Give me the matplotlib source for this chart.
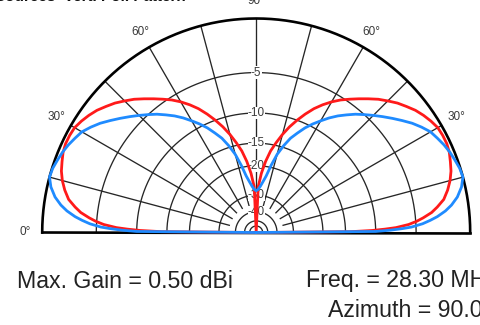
import numpy as np
import matplotlib.pyplot as plt

plt.rcParams['font.family'] = ['Liberation Sans', 'DejaVu Sans']

# elevation angles (deg) and relative gain (dB) for the two patterns
elev = [0, 0.5, 1, 1.5, 2, 3, 4, 5, 6.5, 8, 10, 12.5, 15, 17.5, 20, 22.5, 25, 27.5, 30,
        32.5, 35, 37.5, 40, 42.5, 45, 47.5, 50, 52.5, 55, 57.5, 60, 62.5, 65, 67.5, 70,
        72.5, 75, 77.5, 80, 82.5, 85, 87.5, 90]
red_db = [-100, -14.0, -10.5, -8.7, -7.3, -5.8, -4.9, -4.2, -3.3, -2.7, -2.0, -1.5, -1.1,
          -0.8, -0.6, -0.4, -0.3, -0.3, -0.35, -0.55, -0.8, -1.1, -1.5, -1.9, -2.4, -2.9,
          -3.5, -4.1, -4.7, -5.3, -6.0, -6.8, -7.7, -8.8, -10.0, -11.3, -12.8, -14.5,
          -16.3, -18.8, -22.0, -26.5, -100]
blue_db = [-100, -10.0, -8.0, -6.6, -5.5, -4.3, -3.5, -2.8, -2.0, -1.4, -0.8, -0.3, 0.0,
           -0.05, -0.2, -0.35, -0.55, -0.8, -1.05, -1.5, -2.0, -2.6, -3.2, -3.8, -4.4,
           -5.0, -5.6, -6.3, -7.0, -7.8, -8.7, -9.6, -10.6, -11.8, -13.0, -14.7, -16.7,
           -19.5, -22.6, -24.6, -26.3, -27.5, -28.0]

ring_db = [-5, -10, -15, -20, -30, -40, -50, -60]
ring_labels = {-5: '-5', -10: '-10', -15: '-15', -20: '-20', -30: '-30', -40: '-40'}
spoke_deg = [15, 30, 45, 60, 75, 90, 105, 120, 135, 150, 165]
angle_labels = {180: '0°', 150: '30°', 120: '60°', 90: '90°', 60: '60°', 30: '30°'}

max_gain = 0.50
freq = 28.30
azimuth = 90.0


def arrl(db):
    # ARRL log-periodic radial scale: 0.89 per 2 dB
    return 0.89 ** (-np.asarray(db, dtype=float) / 2.0)


W, H = 480, 325
cx, cy, R = 256.2, 232.5, 214.0
fig = plt.figure(figsize=(W / 100, H / 100), dpi=100)
ax = fig.add_axes([(cx - R) / W, (H - cy - R) / H, 2 * R / W, 2 * R / H], projection='polar')
ax.set_axis_off()
ax.set_ylim(0, 1)

half = np.linspace(0, np.pi, 361)
grid_c = '#262626'

# rings
for d in ring_db:
    ax.plot(half, np.full_like(half, arrl(d)), color=grid_c, lw=0.95, zorder=1, clip_on=False)
# spokes
r_in = float(arrl(-35))
for a in spoke_deg:
    t = np.radians(a)
    ax.plot([t, t], [r_in, 1.0], color=grid_c, lw=0.95, zorder=1, clip_on=False)

# outer ring and baseline
ax.plot(half, np.ones_like(half), color='black', lw=1.9, zorder=2, clip_on=False)
ax.plot([0, np.pi], [1.0, 1.0], color='black', lw=1.9, zorder=2, clip_on=False)

# ring labels along the vertical spoke
for d, s in ring_labels.items():
    ax.text(np.pi / 2, float(arrl(d)), s, ha='center', va='center', fontsize=8.5,
            color='#3a3a3a', zorder=3,
            bbox=dict(facecolor='white', edgecolor='none', pad=0.1))

for a, s in angle_labels.items():
    ax.text(np.radians(a), 1.08, s, ha='center', va='center', fontsize=8.5, color='#3a3a3a')

# patterns, mirrored about the zenith
theta = np.radians(np.array(elev + [180 - e for e in elev[::-1]]))
red_r = arrl(red_db + red_db[::-1])
blue_r = arrl(blue_db + blue_db[::-1])
ax.plot(theta, red_r, color='#ff1a1a', lw=2.0, zorder=4, clip_on=False)
ax.plot(theta, blue_r, color='#1f8bff', lw=2.0, zorder=5, clip_on=False)

fig.text(-0.01, 1 - 1.2 / H, 'Sources  Vert. Pol. Pattern', fontsize=11, fontweight='bold',
         va='baseline', ha='left', color='#111111')

fig.text(17 / W, 1 - 281 / H, 'Max. Gain = %.2f dBi' % max_gain, fontsize=16.7,
         va='center', ha='left', color='#222222')
fig.text(306 / W, 1 - 281 / H, 'Freq. = %.2f MHz' % freq, fontsize=16.7,
         va='center', ha='left', color='#222222')
fig.text(328 / W, 1 - 311 / H, 'Azimuth = %.1f deg.' % azimuth, fontsize=16.7,
         va='center', ha='left', color='#222222')

fig.savefig('out.png', dpi=100)
